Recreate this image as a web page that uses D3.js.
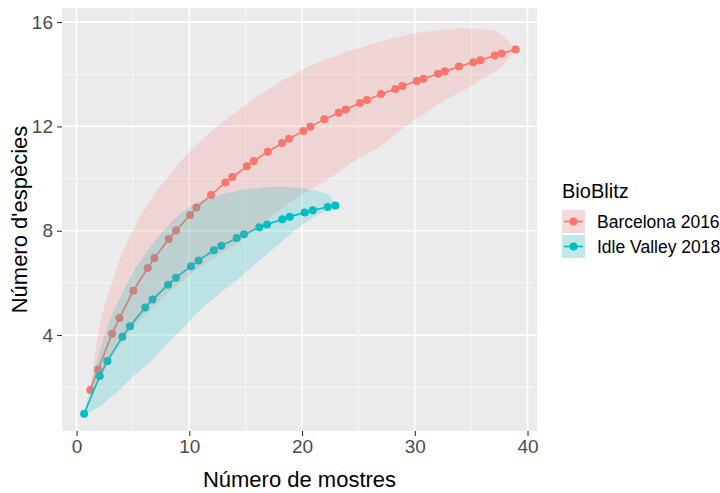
<!DOCTYPE html>
<html>
<head>
<meta charset="utf-8">
<script src="https://cdn.jsdelivr.net/npm/d3@7"></script>
<style>
  html, body { margin: 0; padding: 0; background: #fff; }
  svg { display: block; font-family: 'Liberation Sans', Arial, sans-serif; }
</style>
</head>
<body>
<div id="chart"></div>
<script>
const SIZE = Object.freeze({ WIDTH: 720, HEIGHT: 493, LEFT: 62, RIGHT: 537, TOP: 8, BOTTOM: 431 })

const seriesNames = ['Barcelona 2016', 'Idle Valley 2018']
const seriesColors = ['#F8766D', '#00BFC4']
const xTicks = [0, 10, 20, 30, 40]
const yTicks = [4, 8, 12, 16]
const xMinor = [5, 15, 25, 35]
const yMinor = [2, 6, 10, 14]

// Barcelona 2016
const barcelonaX = [1.22, 1.91, 3.15, 3.80, 5.04, 6.31, 6.90, 8.18, 8.82, 10.07, 10.64, 11.93, 13.20, 13.82,
  15.10, 15.72, 16.96, 18.23, 18.85, 20.12, 20.74, 21.98, 23.25, 23.88, 25.14, 25.76, 27.01, 28.27, 28.90,
  30.17, 30.78, 32.06, 32.66, 33.92, 35.19, 35.81, 37.09, 37.71, 38.95]
const barcelonaY = [1.89, 2.68, 4.05, 4.65, 5.70, 6.57, 6.95, 7.68, 8.01, 8.60, 8.89, 9.37, 9.85, 10.06,
  10.47, 10.67, 11.03, 11.36, 11.53, 11.82, 11.99, 12.27, 12.52, 12.65, 12.90, 13.01, 13.24, 13.43, 13.55,
  13.74, 13.83, 14.02, 14.11, 14.30, 14.46, 14.54, 14.72, 14.80, 14.95]
const barcelonaLow = [1.89, 2.2, 3.2, 3.6, 4.3, 4.85, 5.1, 5.65, 5.85, 6.3, 6.5, 6.9, 7.25, 7.4,
  7.8, 8.0, 8.45, 8.85, 9.05, 9.4, 9.6, 9.9, 10.25, 10.45, 10.8, 10.95, 11.25, 11.7, 11.9,
  12.3, 12.45, 12.85, 13.0, 13.3, 13.6, 13.8, 14.1, 14.3, 14.95]
const barcelonaHigh = [1.89, 4.0, 6.0, 6.85, 8.05, 9.0, 9.4, 10.1, 10.45, 11.05, 11.3, 11.8, 12.25, 12.45,
  12.85, 13.05, 13.4, 13.75, 13.9, 14.2, 14.33, 14.55, 14.75, 14.85, 15.02, 15.1, 15.26, 15.4, 15.47,
  15.58, 15.62, 15.68, 15.71, 15.76, 15.74, 15.73, 15.66, 15.51, 14.95]

// Idle Valley 2018
const idleX = [0.67, 2.06, 2.73, 4.06, 4.74, 6.09, 6.74, 8.12, 8.82, 10.16, 10.82, 12.17, 12.84, 14.21,
  14.86, 16.21, 16.90, 18.25, 18.91, 20.24, 20.95, 22.28, 22.95]
const idleY = [0.98, 2.43, 3.00, 3.93, 4.34, 5.06, 5.36, 5.93, 6.20, 6.64, 6.86, 7.25, 7.42, 7.72,
  7.86, 8.13, 8.24, 8.44, 8.54, 8.70, 8.78, 8.91, 8.97]
const idleLow = [0.98, 1.25, 1.5, 2.0, 2.3, 2.8, 3.05, 3.7, 4.0, 4.6, 4.9, 5.4, 5.65, 6.1,
  6.35, 6.85, 7.1, 7.6, 7.85, 8.3, 8.5, 8.8, 8.97]
const idleHigh = [0.98, 3.4, 4.3, 5.6, 6.2, 7.1, 7.5, 8.2, 8.5, 8.95, 9.1, 9.3, 9.4, 9.52,
  9.58, 9.64, 9.67, 9.68, 9.67, 9.62, 9.55, 9.4, 8.97]

const series = [
  { name: seriesNames[0], color: seriesColors[0], x: barcelonaX, y: barcelonaY, lo: barcelonaLow, hi: barcelonaHigh },
  { name: seriesNames[1], color: seriesColors[1], x: idleX, y: idleY, lo: idleLow, hi: idleHigh },
].map(s => ({ ...s, rows: s.x.map((x, i) => ({ x, y: s.y[i], lo: s.lo[i], hi: s.hi[i] })) }))

const xScale = d3.scaleLinear().domain([-1.29, 40.84]).range([SIZE.LEFT, SIZE.RIGHT])
const yScale = d3.scaleLinear().domain([0.32, 16.54]).range([SIZE.BOTTOM, SIZE.TOP])

const svg = d3.select('#chart')
  .append('svg')
  .attr('width', SIZE.WIDTH)
  .attr('height', SIZE.HEIGHT)

svg.append('rect')
  .attr('x', SIZE.LEFT)
  .attr('y', SIZE.TOP)
  .attr('width', SIZE.RIGHT - SIZE.LEFT)
  .attr('height', SIZE.BOTTOM - SIZE.TOP)
  .attr('fill', '#EBEBEB')

// grid
const grid = svg.append('g')
grid.selectAll('.vminor').data(xMinor).enter().append('line')
  .attr('x1', d => xScale(d)).attr('x2', d => xScale(d))
  .attr('y1', SIZE.TOP).attr('y2', SIZE.BOTTOM)
  .attr('stroke', '#fff').attr('stroke-width', 0.8).attr('opacity', 0.8)
grid.selectAll('.hminor').data(yMinor).enter().append('line')
  .attr('y1', d => yScale(d)).attr('y2', d => yScale(d))
  .attr('x1', SIZE.LEFT).attr('x2', SIZE.RIGHT)
  .attr('stroke', '#fff').attr('stroke-width', 0.8).attr('opacity', 0.8)
grid.selectAll('.vmajor').data(xTicks).enter().append('line')
  .attr('x1', d => xScale(d)).attr('x2', d => xScale(d))
  .attr('y1', SIZE.TOP).attr('y2', SIZE.BOTTOM)
  .attr('stroke', '#fff').attr('stroke-width', 1.6)
grid.selectAll('.hmajor').data(yTicks).enter().append('line')
  .attr('y1', d => yScale(d)).attr('y2', d => yScale(d))
  .attr('x1', SIZE.LEFT).attr('x2', SIZE.RIGHT)
  .attr('stroke', '#fff').attr('stroke-width', 1.6)

// lines and points first, ribbons laid over them
const line = d3.line().x(d => xScale(d.x)).y(d => yScale(d.y))

series.forEach(s => {
  svg.append('path')
    .attr('d', line(s.rows))
    .attr('fill', 'none')
    .attr('stroke', s.color)
    .attr('stroke-width', 1.6)
  svg.selectAll(null).data(s.rows).enter().append('circle')
    .attr('cx', d => xScale(d.x))
    .attr('cy', d => yScale(d.y))
    .attr('r', 4)
    .attr('fill', s.color)
})

const area = d3.area()
  .x(d => xScale(d.x))
  .y0(d => yScale(d.lo))
  .y1(d => yScale(d.hi))
  .curve(d3.curveMonotoneX)

svg.selectAll('.ribbon').data(series).enter().append('path')
  .attr('d', d => area(d.rows))
  .attr('fill', d => d.color)
  .attr('fill-opacity', 0.2)

// axes
const xAxis = d3.axisBottom(xScale).tickValues(xTicks).tickSize(5).tickPadding(4)
const yAxis = d3.axisLeft(yScale).tickValues(yTicks).tickSize(5).tickPadding(4)

const gx = svg.append('g')
  .attr('transform', `translate(0, ${SIZE.BOTTOM})`)
  .call(xAxis)
const gy = svg.append('g')
  .attr('transform', `translate(${SIZE.LEFT}, 0)`)
  .call(yAxis)

;[gx, gy].forEach(g => {
  g.select('.domain').remove()
  g.selectAll('.tick line').attr('stroke', '#333').attr('stroke-width', 1.1)
  g.selectAll('.tick text')
    .attr('fill', '#4D4D4D')
    .style('font-size', '19px')
    .style('font-family', "'Liberation Sans', Arial, sans-serif")
})

svg.append('text')
  .attr('x', (SIZE.LEFT + SIZE.RIGHT) / 2)
  .attr('y', 487)
  .attr('text-anchor', 'middle')
  .style('font-size', '22px')
  .text('Número de mostres')

svg.append('text')
  .attr('transform', `translate(27, ${(SIZE.TOP + SIZE.BOTTOM) / 2}) rotate(-90)`)
  .attr('text-anchor', 'middle')
  .style('font-size', '22px')
  .text("Número d'espècies")

// legend
const legend = svg.append('g').attr('transform', 'translate(562, 0)')
legend.append('text')
  .attr('x', 0)
  .attr('y', 198)
  .style('font-size', '20px')
  .text('BioBlitz')

const keys = legend.selectAll('.key').data(series).enter().append('g')
  .attr('transform', (d, i) => `translate(0, ${210 + i * 25})`)
keys.append('rect')
  .attr('width', 23).attr('height', 23)
  .attr('fill', '#F2F2F2')
keys.append('line')
  .attr('x1', 2).attr('x2', 21).attr('y1', 11.5).attr('y2', 11.5)
  .attr('stroke', d => d.color).attr('stroke-width', 1.6)
keys.append('circle')
  .attr('cx', 11.5).attr('cy', 11.5).attr('r', 4)
  .attr('fill', d => d.color)
keys.append('rect')
  .attr('width', 23).attr('height', 23)
  .attr('fill', d => d.color)
  .attr('fill-opacity', 0.2)
keys.append('text')
  .attr('x', 35).attr('y', 11.5)
  .attr('dy', '0.35em')
  .style('font-size', '17.5px')
  .text(d => d.name)
</script>
</body>
</html>
